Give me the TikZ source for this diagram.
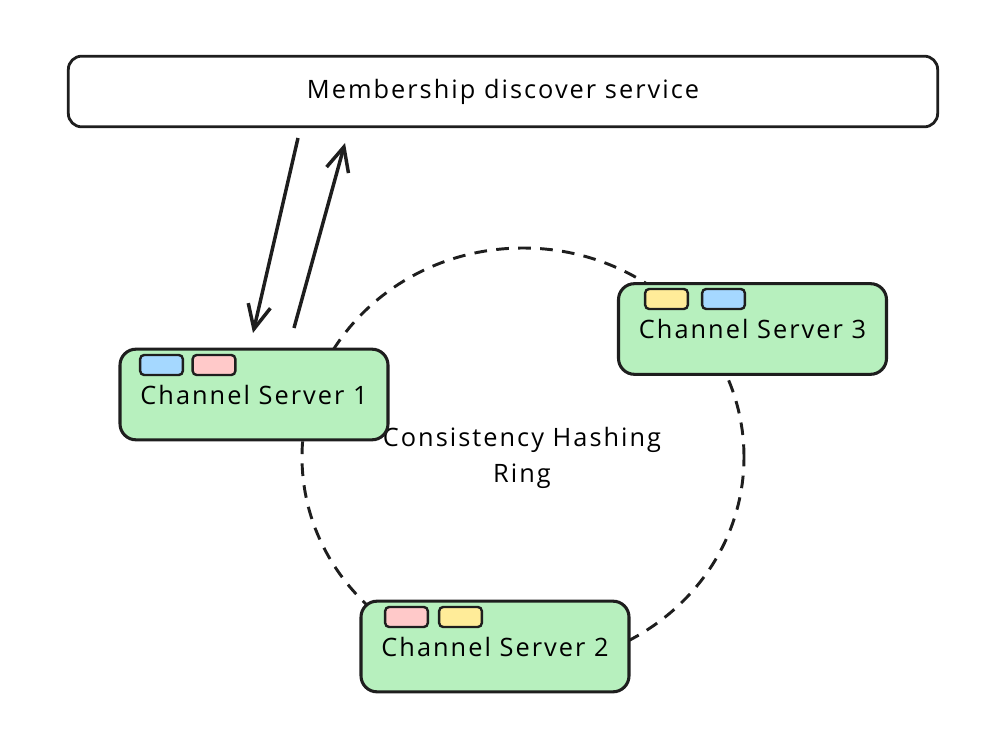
\documentclass[tikz,border=0pt]{standalone}
\usepackage{fontspec}
\setmainfont{Open Sans}
\newfontfamily\handfont[LetterSpace=8]{Open Sans}
\usetikzlibrary{arrows.meta,positioning}
\definecolor{mint}{RGB}{183,240,190}
\definecolor{sky}{RGB}{165,216,255}
\definecolor{blush}{RGB}{255,201,201}
\definecolor{butter}{RGB}{255,236,153}
\definecolor{ink}{RGB}{30,30,30}
\tikzset{
  >={Straight Barb[length=18pt,width=17pt]},
  svc/.style={draw=ink,fill=white,rounded corners=10pt,line width=2.1pt,
    minimum width=652pt,minimum height=53pt,font=\handfont\fontsize{19}{22}\selectfont},
  server/.style={draw=ink,fill=mint,rounded corners=12pt,line width=2.3pt,
    minimum width=201pt,minimum height=68pt,font=\handfont\fontsize{19}{22}\selectfont},
  tagbox/.style={draw=ink,fill=#1,rounded corners=3pt,line width=1.8pt,
    minimum width=32pt,minimum height=15pt,inner sep=0pt},
  ring/.style={draw=ink,line width=2.2pt,dash pattern=on 9.5pt off 7pt},
  flow/.style={->,draw=ink,line width=2.6pt},
}
\begin{document}
\begin{tikzpicture}[x=0.75pt,y=-0.75pt]
  \useasboundingbox (0,0) rectangle (1008,756);
  % hashing ring behind the servers
  \draw[ring] (523,457) ellipse [x radius=165.75pt, y radius=156.75pt];
  \node[font=\handfont\fontsize{19}{27}\selectfont,align=center] (ringlbl) at (522,458) {Consistency Hashing\\Ring};

  \node[svc] (mds) at (503,91.5) {Membership discover service};

  \node[server] (cs1) at (254,394.5) {Channel Server 1};
  \node[server] (cs3) at (752.5,329) {Channel Server 3};
  \node[server] (cs2) at (495,646.5) {Channel Server 2};

  \node[tagbox=sky]    (cs1a) at (161.5,365) {};
  \node[tagbox=blush]  (cs1b) at (214,365) {};
  \node[tagbox=butter] (cs3a) at (666.5,299) {};
  \node[tagbox=sky]    (cs3b) at (723.5,299) {};
  \node[tagbox=blush]  (cs2a) at (406.5,617) {};
  \node[tagbox=butter] (cs2b) at (460.5,617) {};

  % lookup / register
  \coordinate (down1) at (298,138);
  \coordinate (down2) at (253,333);
  \coordinate (up1) at (294,328);
  \coordinate (up2) at (345,143);
  \draw[flow] (down1) -- (down2);
  \draw[flow] (up1) -- (up2);
\end{tikzpicture}
\end{document}
